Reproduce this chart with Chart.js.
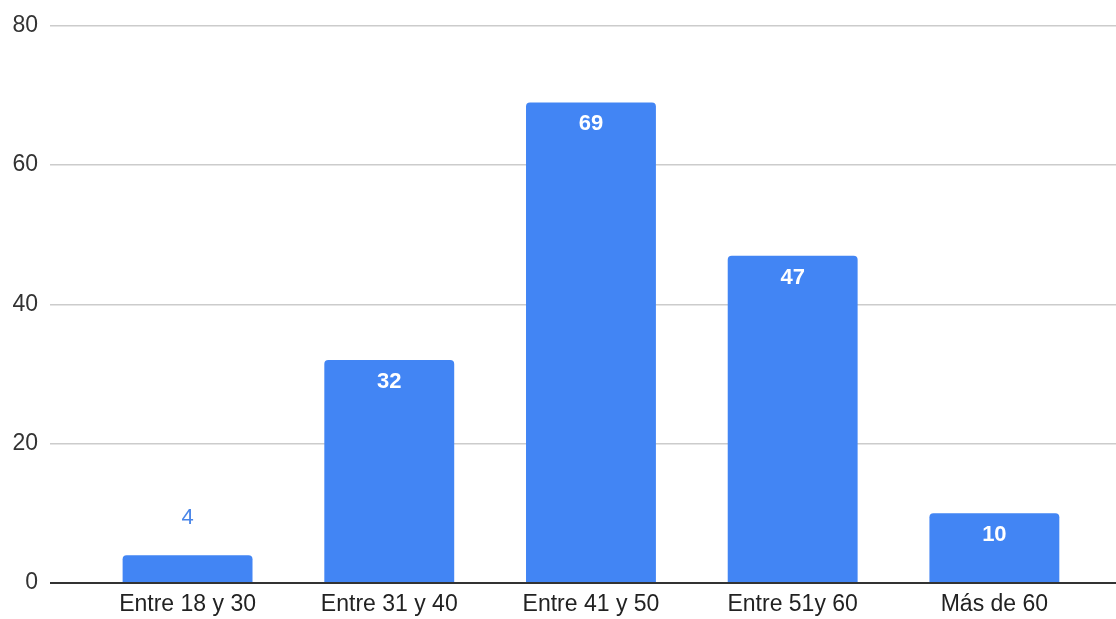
<!DOCTYPE html>
<html>
<head>
<meta charset="utf-8">
<script src="https://cdn.jsdelivr.net/npm/chart.js@4"></script>
<style>
  html, body { margin: 0; padding: 0; background: #fff; }
  #wrap { width: 1116px; height: 619px; }
</style>
</head>
<body>
<div id="wrap"><canvas id="edadChart" width="1116" height="619"></canvas></div>
<script>
const categorias = ['Entre 18 y 30', 'Entre 31 y 40', 'Entre 41 y 50', 'Entre 51y 60', 'Más de 60'];
const valores = [4, 32, 69, 47, 10];
const yTicks = [0, 20, 40, 60, 80];

const azul = '#4285f4';
const fuente = 'Arial, "Liberation Sans", sans-serif';

// etiquetas de valor: dentro de la barra en blanco, encima si la barra es baja
const etiquetasValor = {
  id: 'etiquetasValor',
  afterDatasetsDraw(chart) {
    const ctx = chart.ctx;
    const meta = chart.getDatasetMeta(0);
    ctx.save();
    ctx.textAlign = 'center';
    ctx.textBaseline = 'middle';
    meta.data.forEach((bar, i) => {
      const alto = bar.base - bar.y;
      if (alto < 40) {
        ctx.font = '22px ' + fuente;
        ctx.fillStyle = '#4a86e8';
        ctx.fillText(valores[i], bar.x, bar.y - 37);
      } else {
        ctx.font = 'bold 22px ' + fuente;
        ctx.fillStyle = '#ffffff';
        ctx.fillText(valores[i], bar.x, bar.y + 22);
      }
    });
    ctx.restore();
  }
};

new Chart(document.getElementById('edadChart'), {
  type: 'bar',
  data: {
    datasets: [{
      data: valores.map((v, i) => ({ x: i, y: v })),
      backgroundColor: azul,
      borderRadius: { topLeft: 4, topRight: 4 },
      borderSkipped: 'bottom',
      categoryPercentage: 1,
      barPercentage: 0.644
    }]
  },
  options: {
    responsive: false,
    animation: false,
    layout: { autoPadding: false, padding: { top: 25, left: 0, right: 0, bottom: 0 } },
    plugins: {
      legend: { display: false },
      tooltip: { enabled: false }
    },
    scales: {
      x: {
        type: 'linear',
        offset: false,
        min: -0.682,
        max: 4.603,
        grid: { display: false, drawTicks: false, offset: false },
        border: { display: false },
        afterFit(scale) { scale.height = 36; },
        afterBuildTicks(scale) {
          scale.ticks = categorias.map((c, i) => ({ value: i }));
        },
        ticks: {
          autoSkip: false,
          maxRotation: 0,
          padding: 8,
          color: '#222',
          font: { family: fuente, size: 23 },
          callback: (v) => categorias[v] ?? ''
        }
      },
      y: {
        min: 0,
        max: 80,
        afterFit(scale) { scale.width = 50; },
        afterBuildTicks(scale) {
          scale.ticks = yTicks.map(v => ({ value: v }));
        },
        grid: {
          drawTicks: false,
          color: (c) => c.tick && c.tick.value === 0 ? '#333333' : '#cccccc',
          lineWidth: (c) => c.tick && c.tick.value === 0 ? 2 : 1.5
        },
        border: { display: false },
        ticks: {
          padding: 12,
          color: '#333',
          font: { family: fuente, size: 23 }
        }
      }
    }
  },
  plugins: [etiquetasValor]
});
</script>
</body>
</html>
